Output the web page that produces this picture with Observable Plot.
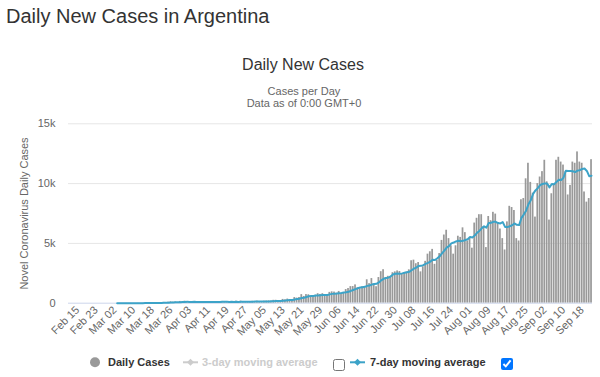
<!DOCTYPE html>
<html>
<head>
<meta charset="utf-8">
<script src="https://cdn.jsdelivr.net/npm/d3@7"></script>
<script src="https://cdn.jsdelivr.net/npm/@observablehq/plot@0.6"></script>
<style>
  html, body { margin: 0; padding: 0; background: #fff; }
  body { font-family: "Liberation Sans", Arial, sans-serif; }
  #wrap { position: relative; width: 600px; height: 377px; overflow: hidden; }
  #chart { position: absolute; left: 0; top: 0; }
  #chart svg text { fill: #666; }
  .abs { position: absolute; white-space: nowrap; line-height: 1; }
  #page-title { left: 6px; top: 5.8px; font-size: 20px; color: #333; }
  #chart-title { left: 303px; top: 57.2px; font-size: 16px; color: #333; transform: translateX(-50%); }
  .sub { font-size: 11px; color: #666; transform: translateX(-50%); left: 304px; }
  .leg { font-size: 11px; font-weight: bold; }
  input.cb { position: absolute; margin: 0; width: 12px; height: 12px; }
</style>
</head>
<body>
<div id="wrap">
  <div id="page-title" class="abs">Daily New Cases in Argentina</div>
  <div id="chart-title" class="abs">Daily New Cases</div>
  <div class="abs sub" style="top:85.7px">Cases per Day</div>
  <div class="abs sub" style="top:98px">Data as of 0:00 GMT+0</div>
  <div id="chart"></div>
  <svg class="abs" style="left:0;top:350px" width="600" height="27">
    <circle cx="95" cy="12.3" r="5" fill="#999"></circle>
    <line x1="183" x2="198" y1="12.3" y2="12.3" stroke="#ccc" stroke-width="2"></line>
    <path d="M190.5,8.8L194,12.3L190.5,15.8L187,12.3Z" fill="#ccc"></path>
    <line x1="350" x2="365" y1="12.3" y2="12.3" stroke="#3ca3c8" stroke-width="2"></line>
    <path d="M357.5,8.8L361,12.3L357.5,15.8L354,12.3Z" fill="#3ca3c8"></path>
  </svg>
  <div class="abs leg" style="left:108px;top:357.4px;color:#333">Daily Cases</div>
  <div class="abs leg" style="left:202px;top:357.4px;color:#ccc">3-day moving average</div>
  <input class="cb" type="checkbox" style="left:333px;top:359px">
  <div class="abs leg" style="left:370px;top:357.4px;color:#333">7-day moving average</div>
  <input class="cb" type="checkbox" checked style="left:501px;top:358px">
</div>
<script>
// ---- data ----
const firstDay = "2020-02-15";
const lastDay = "2020-09-22";
const maFirstDay = "2020-03-03"; // moving average line starts with the first case

const dailyCases = [
  // Feb 15 - Mar 02
  0,0,0,0,0,0,0,0,0,0,0,0,0,0,0,0,0,
  // Mar 03 - Mar 31
  1,0,1,0,6,4,5,2,2,12,3,11,11,9,14,18,31,30,30,41,67,36,86,115,87,101,55,146,88,
  // April
  167,132,79,89,88,98,87,116,100,81,82,67,139,98,135,136,146,84,80,93,114,99,165,95,172,111,124,111,142,158,
  // May
  107,170,143,108,167,179,190,172,240,244,143,165,316,285,345,308,264,473,426,474,718,565,723,704,552,535,669,795,734,795,715,
  // June
  564,904,949,929,840,983,772,826,1141,1226,1386,1391,1531,1282,1208,1374,1393,1958,1634,2060,1581,1377,2146,2635,2800,2150,2250,2250,2550,2620,
  // Jul 01 - Jul 19
  2700,2650,2430,2570,2600,2790,3550,3600,3300,3400,2620,3050,3500,4100,4300,4500,3250,3600,4150,
  // Jul 20 - Aug 24
  5250,5700,6100,5400,4800,4100,4800,5600,5500,6300,5900,5200,5400,4600,6700,7100,7400,7400,6400,4650,
  7250,6900,7600,7450,6650,6200,5400,4450,6800,8100,8000,7750,5400,5200,8650,8750,
  // Aug 25 - Sep 22
  10400,11700,10100,9200,7200,10000,10550,11000,11950,10150,6950,9150,9850,11950,12200,11800,11550,11000,9050,9850,
  11800,11700,12650,11800,11700,9300,8450,8750,12000
];

const xTickLabels = ["Feb 15","Feb 23","Mar 02","Mar 10","Mar 18","Mar 26","Apr 03","Apr 11","Apr 19","Apr 27",
  "May 05","May 13","May 21","May 29","Jun 06","Jun 14","Jun 22","Jun 30","Jul 08","Jul 16","Jul 24",
  "Aug 01","Aug 09","Aug 17","Aug 25","Sep 02","Sep 10","Sep 18"];
const yTicks = [0, 5000, 10000, 15000];
const yTickLabels = ["0", "5k", "10k", "15k"];

// ---- build table ----
const parse = d3.utcParse("%Y-%m-%d");
const days = d3.utcDay.range(parse(firstDay), d3.utcDay.offset(parse(lastDay), 1));
const fmt = d3.utcFormat("%b %d");
const dayLabels = days.map(fmt);
const rows = days.map((date, i) => ({date, day: dayLabels[i], cases: dailyCases[i]}));
const maStart = parse(maFirstDay);

const lineColor = "#3ca3c8";

const chart = Plot.plot({
  width: 600,
  height: 377,
  marginTop: 123.3,
  marginBottom: 74.3,
  marginLeft: 68,
  marginRight: 8,
  style: {fontFamily: "'Liberation Sans', Arial, sans-serif", fontSize: "11px", color: "#666", background: "transparent", overflow: "visible"},
  x: {
    type: "band", domain: dayLabels, range: [75.8, 592.2], padding: 0,
    ticks: xTickLabels, tickSize: 0, tickPadding: 5, tickRotate: -45, label: null
  },
  y: {
    domain: [0, 15000], ticks: yTicks, tickFormat: d => yTickLabels[yTicks.indexOf(d)],
    tickSize: 0, tickPadding: 13,
    label: "Novel Coronavirus Daily Cases", labelAnchor: "center", labelOffset: 48, labelArrow: "none"
  },
  marks: [
    Plot.ruleY(yTicks.slice(1), {stroke: "#e6e6e6", strokeWidth: 1}),
    Plot.barY(rows, {x: "day", y: "cases", fill: "#999", insetLeft: 0.3, insetRight: 0.3}),
    Plot.ruleY([0], {stroke: "#ccd6eb", strokeWidth: 1}),
    Plot.line(rows, Plot.filter(d => d.date >= maStart,
      Plot.windowY({k: 7, anchor: "end", reduce: "mean"},
        {x: "day", y: "cases", stroke: lineColor, strokeWidth: 2, curve: "linear"})))
  ]
});
document.getElementById("chart").appendChild(chart);
</script>
</body>
</html>
